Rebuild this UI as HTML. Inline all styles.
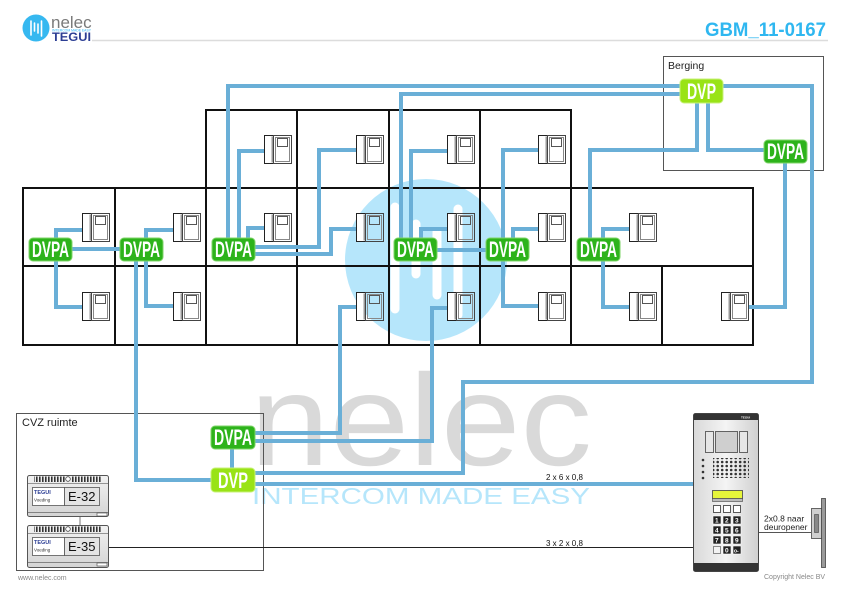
<!DOCTYPE html>
<html><head><meta charset="utf-8"><style>
html,body{margin:0;padding:0;background:#fff;}
svg{display:block;font-family:"Liberation Sans",sans-serif;}
</style></head><body>
<svg width="841" height="595" viewBox="0 0 841 595" xmlns="http://www.w3.org/2000/svg">
<defs>
  <g id="mon">
    <rect x="0.5" y="0.5" width="9" height="28" fill="#fff" stroke="#222" stroke-width="1"/>
    <rect x="7.5" y="1.5" width="1.5" height="26" fill="#999"/>
    <rect x="9.5" y="0.5" width="18" height="28" fill="none" stroke="#444" stroke-width="1"/>
    <rect x="11.5" y="2.5" width="14" height="24" fill="none" stroke="#888" stroke-width="1"/>
    <rect x="13.5" y="3.5" width="10" height="8" fill="none" stroke="#555" stroke-width="1"/>
  </g>
  <pattern id="vent" width="3" height="8" patternUnits="userSpaceOnUse">
    <rect x="0" y="0" width="1.6" height="8" fill="#333"/>
  </pattern>
  <pattern id="dots" width="4.5" height="4" patternUnits="userSpaceOnUse">
    <circle cx="2.2" cy="2" r="1.3" fill="#333"/>
  </pattern>
  <linearGradient id="pg" x1="0" x2="1" y1="0" y2="0">
    <stop offset="0" stop-color="#d9d9d9"/><stop offset="0.5" stop-color="#f4f4f4"/><stop offset="1" stop-color="#d0d0d0"/>
  </linearGradient>
  <linearGradient id="psg" x1="0" x2="0" y1="0" y2="1">
    <stop offset="0" stop-color="#f2f2f2"/><stop offset="1" stop-color="#d4d4d4"/>
  </linearGradient>
</defs>

<!-- header -->
<circle cx="36" cy="28" r="13.5" fill="#36b8f0"/>
<g stroke="#fff" stroke-width="1.6" stroke-linecap="round">
  <line x1="31" y1="21" x2="31" y2="35"/>
  <line x1="34.5" y1="23" x2="34.5" y2="31"/>
  <line x1="38" y1="24" x2="38" y2="33"/>
  <line x1="41.5" y1="21" x2="41.5" y2="36"/>
</g>
<text x="51" y="28" font-size="17" fill="#7a7a7a">nelec</text>
<text x="52" y="31.6" font-size="3.2" fill="#29b6f6" textLength="39" lengthAdjust="spacingAndGlyphs">INTERCOM MADE EASY</text>
<text x="52" y="41" font-size="12" font-weight="bold" fill="#2c3e94" textLength="39" lengthAdjust="spacingAndGlyphs">TEGUI</text>
<line x1="92" y1="40.5" x2="828" y2="40.5" stroke="#dcdcdc" stroke-width="1.5"/>
<text x="705" y="36" font-size="19" font-weight="bold" fill="#2fb7f0" textLength="121" lengthAdjust="spacingAndGlyphs">GBM_11-0167</text>

<!-- watermark -->
<text x="250" y="465" font-size="130" fill="#d9d9d9" textLength="342" lengthAdjust="spacingAndGlyphs">nelec</text>
<text x="252" y="504" font-size="23" fill="#b6e6fb" textLength="338" lengthAdjust="spacingAndGlyphs">INTERCOM MADE EASY</text>
<circle cx="426" cy="260" r="81" fill="#b6e6fb"/>
<g stroke="#fff" stroke-width="9" stroke-linecap="round">
  <line x1="395" y1="207" x2="395" y2="309"/>
  <line x1="416" y1="224" x2="416" y2="274"/>
  <line x1="437" y1="232" x2="437" y2="295"/>
  <line x1="458" y1="209" x2="458" y2="315"/>
</g>

<!-- grid -->
<g stroke="#111" stroke-width="2" fill="none">
  <line x1="205" y1="110" x2="572" y2="110"/>
  <line x1="22" y1="188" x2="754" y2="188"/>
  <line x1="22" y1="266" x2="754" y2="266"/>
  <line x1="22" y1="345" x2="754" y2="345"/>
  <line x1="23" y1="188" x2="23" y2="346"/>
  <line x1="115" y1="188" x2="115" y2="346"/>
  <line x1="206" y1="110" x2="206" y2="346"/>
  <line x1="297" y1="110" x2="297" y2="346"/>
  <line x1="389" y1="110" x2="389" y2="346"/>
  <line x1="480" y1="110" x2="480" y2="346"/>
  <line x1="571" y1="110" x2="571" y2="346"/>
  <line x1="662" y1="266" x2="662" y2="346"/>
  <line x1="753" y1="188" x2="753" y2="346"/>
</g>

<!-- monitors -->
<use href="#mon" x="264" y="135"/><use href="#mon" x="356" y="135"/><use href="#mon" x="447" y="135"/><use href="#mon" x="538" y="135"/>
<use href="#mon" x="82" y="213"/><use href="#mon" x="173" y="213"/><use href="#mon" x="264" y="213"/><use href="#mon" x="356" y="213"/><use href="#mon" x="447" y="213"/><use href="#mon" x="538" y="213"/><use href="#mon" x="629" y="213"/>
<use href="#mon" x="82" y="292"/><use href="#mon" x="173" y="292"/><use href="#mon" x="356" y="292"/><use href="#mon" x="447" y="292"/><use href="#mon" x="538" y="292"/><use href="#mon" x="629" y="292"/><use href="#mon" x="721" y="292"/>

<!-- boxes -->
<rect x="663.5" y="56.5" width="160" height="114" fill="none" stroke="#555" stroke-width="1"/>
<text x="668" y="69" font-size="10.5" fill="#222">Berging</text>
<rect x="16.5" y="413.5" width="247" height="157" fill="none" stroke="#555" stroke-width="1"/>
<text x="22" y="426" font-size="11" fill="#222">CVZ ruimte</text>

<!-- blue cables -->
<g stroke="#6aafd7" stroke-width="4" fill="none" stroke-linejoin="miter">
  <path d="M82,230 H56 V249"/>
  <path d="M56,249 V307 H82"/>
  <path d="M72,249 H120"/>
  <path d="M173,230 H146 V249"/>
  <path d="M146,249 V306 H173"/>
  <path d="M136,249 V480 H215"/>
  <path d="M228,249 V86 H690"/>
  <path d="M239,249 V151 H264"/>
  <path d="M264,228 H248 V249"/>
  <path d="M250,247 H319 V150 H356"/>
  <path d="M250,254 H331 V229 H356"/>
  <path d="M401,249 V94 H690"/>
  <path d="M447,151 H411 V249"/>
  <path d="M447,229 H421 V249"/>
  <path d="M437,250 H486"/>
  <path d="M538,150 H503 V306 H538"/>
  <path d="M538,229 H513 V249"/>
  <path d="M590,249 V150 H697 V95"/>
  <path d="M629,229 H603 V307 H629"/>
  <path d="M708,95 V150 H775"/>
  <path d="M715,86 H812 V382 H463 V473 H240"/>
  <path d="M785,150 V307 H749"/>
  <path d="M356,307 H340 V433 H240"/>
  <path d="M447,308 H432 V441 H240"/>
  <path d="M232,440 V480"/>
  <path d="M240,484 H693"/>
</g>

<!-- nodes -->
<g font-weight="bold" font-size="22" fill="#fff">
  <rect x="29" y="238" width="43" height="23" rx="4" fill="#2db31b" stroke="#7fd46a" stroke-width="1"/>
  <text x="32" y="257" textLength="37" lengthAdjust="spacingAndGlyphs">DVPA</text>
  <rect x="120" y="238" width="43" height="23" rx="4" fill="#2db31b" stroke="#7fd46a" stroke-width="1"/>
  <text x="123" y="257" textLength="37" lengthAdjust="spacingAndGlyphs">DVPA</text>
  <rect x="212" y="238" width="43" height="23" rx="4" fill="#2db31b" stroke="#7fd46a" stroke-width="1"/>
  <text x="215" y="257" textLength="37" lengthAdjust="spacingAndGlyphs">DVPA</text>
  <rect x="394" y="238" width="43" height="23" rx="4" fill="#2db31b" stroke="#7fd46a" stroke-width="1"/>
  <text x="397" y="257" textLength="37" lengthAdjust="spacingAndGlyphs">DVPA</text>
  <rect x="486" y="238" width="43" height="23" rx="4" fill="#2db31b" stroke="#7fd46a" stroke-width="1"/>
  <text x="489" y="257" textLength="37" lengthAdjust="spacingAndGlyphs">DVPA</text>
  <rect x="577" y="238" width="43" height="23" rx="4" fill="#2db31b" stroke="#7fd46a" stroke-width="1"/>
  <text x="580" y="257" textLength="37" lengthAdjust="spacingAndGlyphs">DVPA</text>
  <rect x="764" y="140" width="43" height="23" rx="4" fill="#2db31b" stroke="#7fd46a" stroke-width="1"/>
  <text x="767" y="159" textLength="37" lengthAdjust="spacingAndGlyphs">DVPA</text>
  <rect x="211" y="426" width="44" height="23" rx="4" fill="#2db31b" stroke="#7fd46a" stroke-width="1"/>
  <text x="214" y="445" textLength="38" lengthAdjust="spacingAndGlyphs">DVPA</text>
  <rect x="680" y="79" width="43" height="24" rx="4" fill="#99e316" stroke="#c8f27a" stroke-width="1"/>
  <text x="687" y="99" textLength="29" lengthAdjust="spacingAndGlyphs">DVP</text>
  <rect x="211" y="468" width="44" height="24" rx="4" fill="#99e316" stroke="#c8f27a" stroke-width="1"/>
  <text x="218" y="488" textLength="30" lengthAdjust="spacingAndGlyphs">DVP</text>
</g>

<!-- power supplies -->
<line x1="80" y1="517" x2="80" y2="525" stroke="#777" stroke-width="1"/>
<g>
  <rect x="27.5" y="475.5" width="81" height="41" rx="2" fill="url(#psg)" stroke="#555"/>
  <rect x="34" y="476.5" width="31" height="5.5" fill="url(#vent)"/>
  <rect x="71" y="476.5" width="31" height="5.5" fill="url(#vent)"/>
  <circle cx="68" cy="479" r="2.3" fill="#fff" stroke="#444" stroke-width="0.8"/>
  <line x1="28" y1="483.5" x2="108" y2="483.5" stroke="#777" stroke-width="0.8"/>
  <rect x="32.5" y="487.5" width="32" height="18" fill="#fff" stroke="#555" stroke-width="0.8"/>
  <text x="34" y="494" font-size="5.5" font-weight="bold" fill="#2c3e94">TEGUI</text>
  <text x="34" y="501.5" font-size="4.5" fill="#333">Voeding</text>
  <rect x="64.5" y="487.5" width="35" height="18" fill="#e4e4e4" stroke="#555" stroke-width="0.8"/>
  <text x="68" y="501" font-size="13" fill="#111">E-32</text>
  <line x1="28" y1="512.5" x2="108" y2="512.5" stroke="#666" stroke-width="0.8"/>
  <rect x="97" y="513" width="10" height="3" fill="#fff" stroke="#444" stroke-width="0.6"/>
</g>
<g>
  <rect x="27.5" y="525.5" width="81" height="42" rx="2" fill="url(#psg)" stroke="#555"/>
  <rect x="34" y="526.5" width="31" height="5.5" fill="url(#vent)"/>
  <rect x="71" y="526.5" width="31" height="5.5" fill="url(#vent)"/>
  <circle cx="68" cy="529" r="2.3" fill="#fff" stroke="#444" stroke-width="0.8"/>
  <line x1="28" y1="533.5" x2="108" y2="533.5" stroke="#777" stroke-width="0.8"/>
  <rect x="32.5" y="537.5" width="32" height="18" fill="#fff" stroke="#555" stroke-width="0.8"/>
  <text x="34" y="544" font-size="5.5" font-weight="bold" fill="#2c3e94">TEGUI</text>
  <text x="34" y="551.5" font-size="4.5" fill="#333">Voeding</text>
  <rect x="64.5" y="537.5" width="35" height="18" fill="#e4e4e4" stroke="#555" stroke-width="0.8"/>
  <text x="68" y="551" font-size="13" fill="#111">E-35</text>
  <line x1="28" y1="562.5" x2="108" y2="562.5" stroke="#666" stroke-width="0.8"/>
  <rect x="97" y="563" width="10" height="3" fill="#fff" stroke="#444" stroke-width="0.6"/>
</g>

<!-- thin cable + labels -->
<line x1="109" y1="547.5" x2="693" y2="547.5" stroke="#222" stroke-width="1"/>
<text x="546" y="480" font-size="8" fill="#111">2 x 6 x 0,8</text>
<text x="546" y="546" font-size="8" fill="#111">3 x 2 x 0,8</text>

<!-- door panel -->
<rect x="693.5" y="413.5" width="65" height="158" rx="2" fill="url(#pg)" stroke="#444"/>
<rect x="694" y="414" width="64" height="6" fill="#333"/>
<text x="741" y="418.6" font-size="3" fill="#fff" font-weight="bold">TEGUI</text>
<rect x="705.5" y="431.5" width="8" height="21" fill="#e6e6e6" stroke="#444" stroke-width="0.8"/>
<rect x="715.5" y="431.5" width="22" height="21" fill="#cfcfcf" stroke="#444" stroke-width="0.8"/>
<rect x="739.5" y="431.5" width="8" height="21" fill="#e6e6e6" stroke="#444" stroke-width="0.8"/>
<rect x="713" y="458" width="36" height="20" fill="url(#dots)"/>
<g fill="#333"><circle cx="703" cy="460" r="1.3"/><circle cx="703" cy="466" r="1.3"/><circle cx="703" cy="472" r="1.3"/><circle cx="703" cy="478" r="1.3"/></g>
<rect x="712.5" y="490.5" width="30" height="8" fill="#e6f53a" stroke="#444" stroke-width="0.8"/>
<rect x="712.5" y="498.5" width="30" height="3" fill="#bbb" stroke="#444" stroke-width="0.6"/>
<g stroke="#333" stroke-width="0.8" fill="#fff">
  <rect x="713.5" y="505.5" width="7" height="7"/><rect x="723.5" y="505.5" width="7" height="7"/><rect x="733.5" y="505.5" width="7" height="7"/>
</g>
<g fill="#222" stroke="#fff" stroke-width="0.6">
  <rect x="713" y="516" width="8" height="8"/><rect x="723" y="516" width="8" height="8"/><rect x="733" y="516" width="8" height="8"/>
  <rect x="713" y="526" width="8" height="8"/><rect x="723" y="526" width="8" height="8"/><rect x="733" y="526" width="8" height="8"/>
  <rect x="713" y="536" width="8" height="8"/><rect x="723" y="536" width="8" height="8"/><rect x="733" y="536" width="8" height="8"/>
  <rect x="723" y="546" width="8" height="8"/><rect x="733" y="546" width="8" height="8"/>
</g>
<rect x="713.5" y="546.5" width="7" height="7" fill="#f2f2f2" stroke="#444" stroke-width="0.6"/>
<g font-size="6.5" font-weight="bold" fill="#fff">
  <text x="715" y="522.5">1</text><text x="725" y="522.5">2</text><text x="735" y="522.5">3</text>
  <text x="715" y="532.5">4</text><text x="725" y="532.5">5</text><text x="735" y="532.5">6</text>
  <text x="715" y="542.5">7</text><text x="725" y="542.5">8</text><text x="735" y="542.5">9</text>
  <text x="725" y="552.5">0</text><text x="734" y="552.5" font-size="5">o-</text>
</g>
<rect x="694" y="563" width="64" height="8" fill="#333"/>

<!-- door opener -->
<line x1="759" y1="532.5" x2="811" y2="532.5" stroke="#555" stroke-width="1"/>
<text x="764" y="521.5" font-size="8.5" fill="#222">2x0.8 naar</text>
<text x="764" y="530" font-size="8.5" fill="#222">deuropener</text>
<rect x="821.5" y="498.5" width="4" height="69" fill="#9a9a9a" stroke="#444" stroke-width="0.8"/>
<rect x="811.5" y="508.5" width="10" height="30" fill="#cfcfcf" stroke="#444" stroke-width="0.8"/>
<rect x="814.5" y="514.5" width="4" height="18" fill="#888" stroke="#444" stroke-width="0.6"/>

<!-- footer -->
<text x="18" y="580" font-size="7" fill="#888">www.nelec.com</text>
<text x="764" y="579" font-size="7" fill="#888">Copyright Nelec BV</text>
</svg>
</body></html>
